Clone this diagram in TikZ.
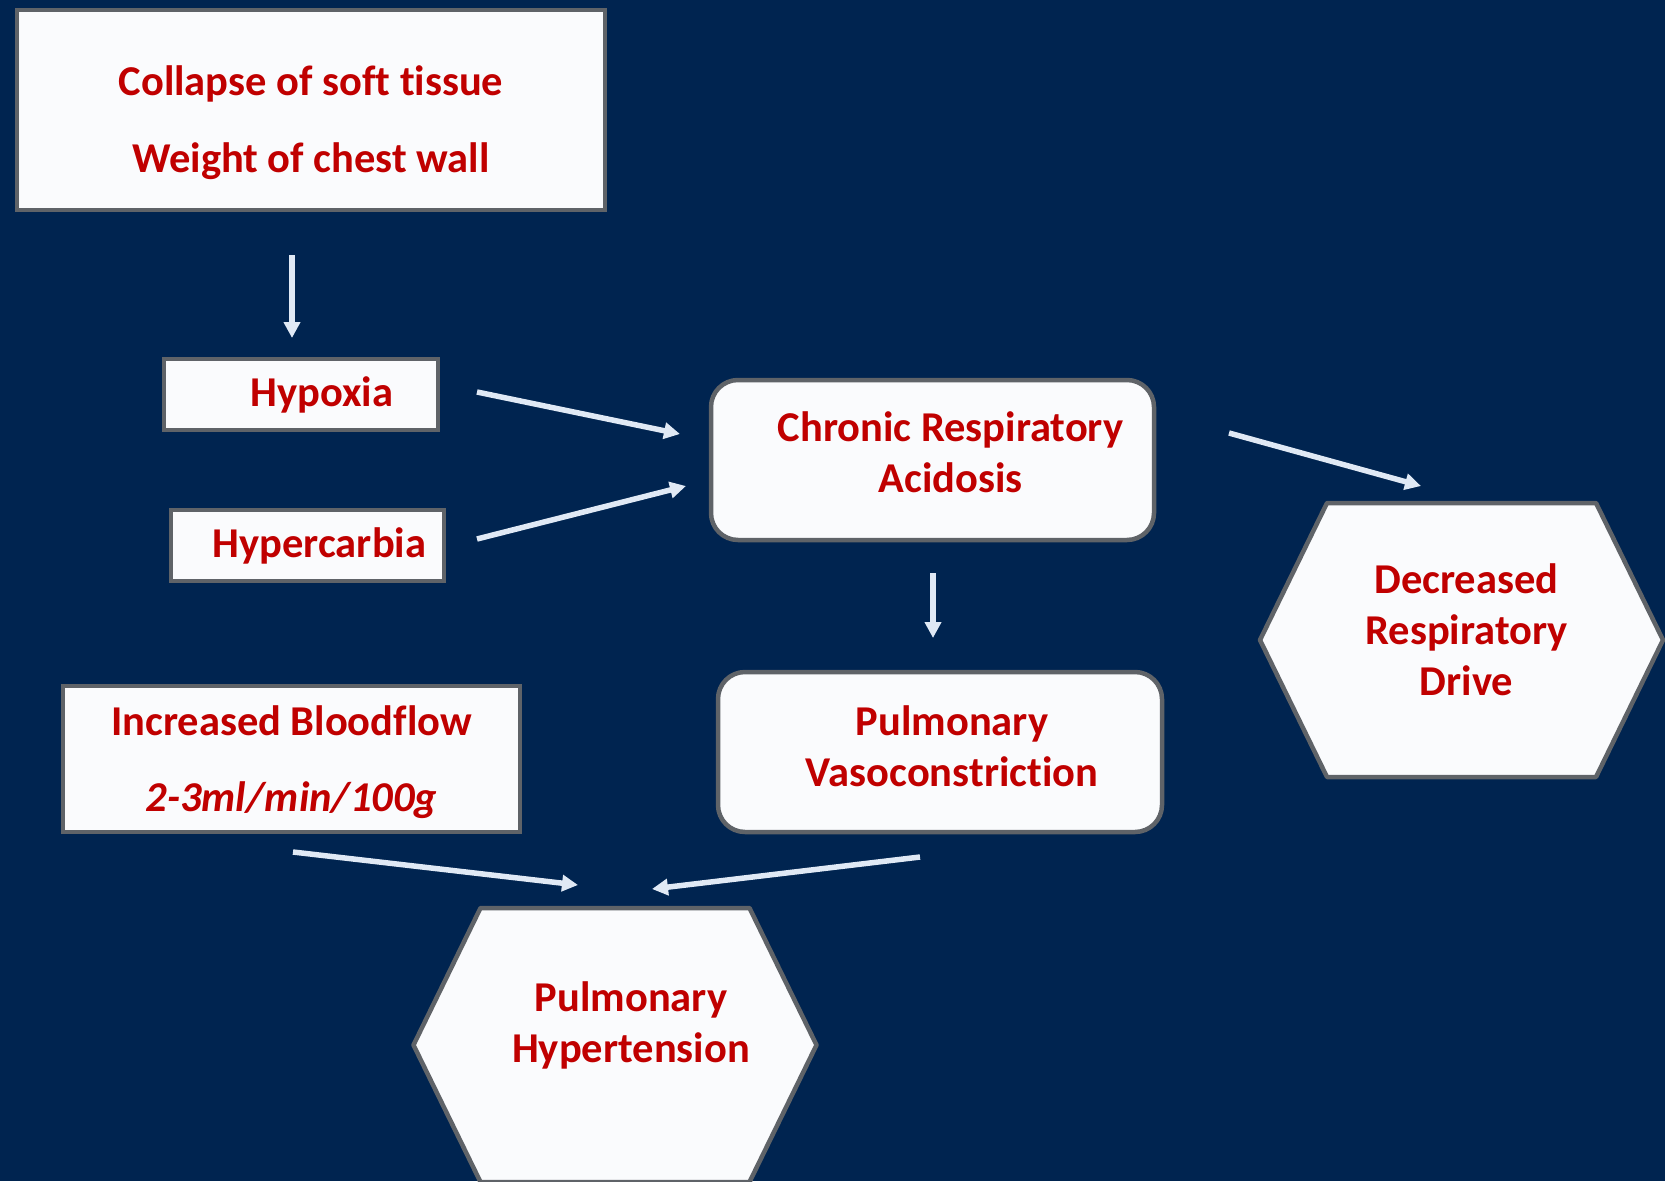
\documentclass[tikz,border=0pt]{standalone}
\usepackage{fontspec}
\setmainfont{Carlito}[Ligatures=NoCommon]
\usetikzlibrary{arrows.meta, calc, positioning}

\definecolor{navy}{RGB}{0,36,80}
\definecolor{boxfill}{RGB}{250,251,253}
\definecolor{boxline}{RGB}{95,99,104}
\definecolor{txtred}{RGB}{192,0,0}
\definecolor{arrowcol}{RGB}{224,233,245}

\begin{document}
\begin{tikzpicture}[x=1pt, y=-1pt,
every node/.style = {font=\fontsize{42.5}{51}\selectfont\bfseries,
                     text=txtred, align=center, inner sep=0pt, outer sep=0pt},
box/.style      = {draw=boxline, fill=boxfill, line width=4.5pt},
roundbox/.style = {box, rounded corners=27pt},
hexbox/.style   = {minimum width=408pt, minimum height=279pt,
    path picture={\draw[boxline, fill=boxfill, line width=4.5pt, line join=round]
            ($(path picture bounding box.west)+(2.5,0)$)
         -- ($(path picture bounding box.north west)+(69.5,2.5)$)
         -- ($(path picture bounding box.north east)+(-69.5,2.5)$)
         -- ($(path picture bounding box.east)+(-2.5,0)$)
         -- ($(path picture bounding box.south east)+(-69.5,-2.5)$)
         -- ($(path picture bounding box.south west)+(69.5,-2.5)$)
         -- cycle;}},
arr/.style      = {draw=arrowcol, line width=5.5pt,
                   -{Triangle[length=16pt, width=16pt]}},
                    ]
%---
\useasboundingbox (0,0) rectangle (1665,1181);
\fill[navy] (0,0) rectangle (1665,1181);
%-------
\node (collapse) [box, minimum width=588pt, minimum height=200pt] at (311,110)
        {\mbox{}\\[5pt]Collapse of soft tissue\\[26pt]Weight of chest wall};
\node (hypoxia)  [box, minimum width=274pt, minimum height=71pt] at (301,394.5)
        {\hspace*{42pt}Hypoxia};
\node (hypercarbia) [box, minimum width=273pt, minimum height=71pt,
                     below=80pt of hypoxia, xshift=6.5pt]
        {\hspace*{24pt}Hypercarbia};
%
\node (chronic) [roundbox, minimum width=443pt, minimum height=160pt] at (932.5,460)
        {\hspace*{36pt}Chronic Respiratory\\\hspace*{36pt}Acidosis\\[-36pt]\mbox{}};
\node (vaso)    [roundbox, minimum width=444pt, minimum height=160pt,
                 below=132pt of chronic, xshift=7.5pt]
        {\hspace*{24pt}Pulmonary\\\hspace*{24pt}Vasoconstriction\\[-39pt]\mbox{}};
\node (bloodflow) [box, minimum width=457pt, minimum height=146pt] at (291.5,759)
        {\mbox{}\\[-14.5pt]Increased Bloodflow\\[25pt]\textit{2-3ml/min/100g}};
%
\node (decreased) [hexbox] at (1461.5,640)
        {\hspace*{10pt}Decreased\\\hspace*{10pt}Respiratory\\\hspace*{10pt}Drive\\[-31pt]\mbox{}};
\node (hyper)     [hexbox] at (615,1045)
        {\hspace*{32pt}Pulmonary\\\hspace*{32pt}Hypertension\\[-6pt]\mbox{}};
% edges
\draw[arr] ($(collapse.south)+(-19,45)$)  -- ($(hypoxia.north)+(-9,-21)$);
\draw[arr] ($(hypoxia.east)+(39,-2.5)$)   -- ($(chronic.west)+(-31,-26)$);
\draw[arr] ($(hypercarbia.east)+(33,-6.5)$) -- ($(chronic.west)+(-25,26)$);
\draw[arr] ($(chronic.east)+(75,-27)$)    -- ($(decreased.north)+(-40.5,-14.5)$);
\draw[arr] ($(chronic.south)+(0.5,33)$)   -- ($(vaso.north)+(-7,-34)$);
\draw[arr] ($(bloodflow.south)+(1.5,20)$) -- ($(hyper.north)+(-37,-20.5)$);
\draw[arr] ($(vaso.south)+(-20,25)$)      -- ($(hyper.north)+(37,-16.5)$);
\end{tikzpicture}
\end{document}
